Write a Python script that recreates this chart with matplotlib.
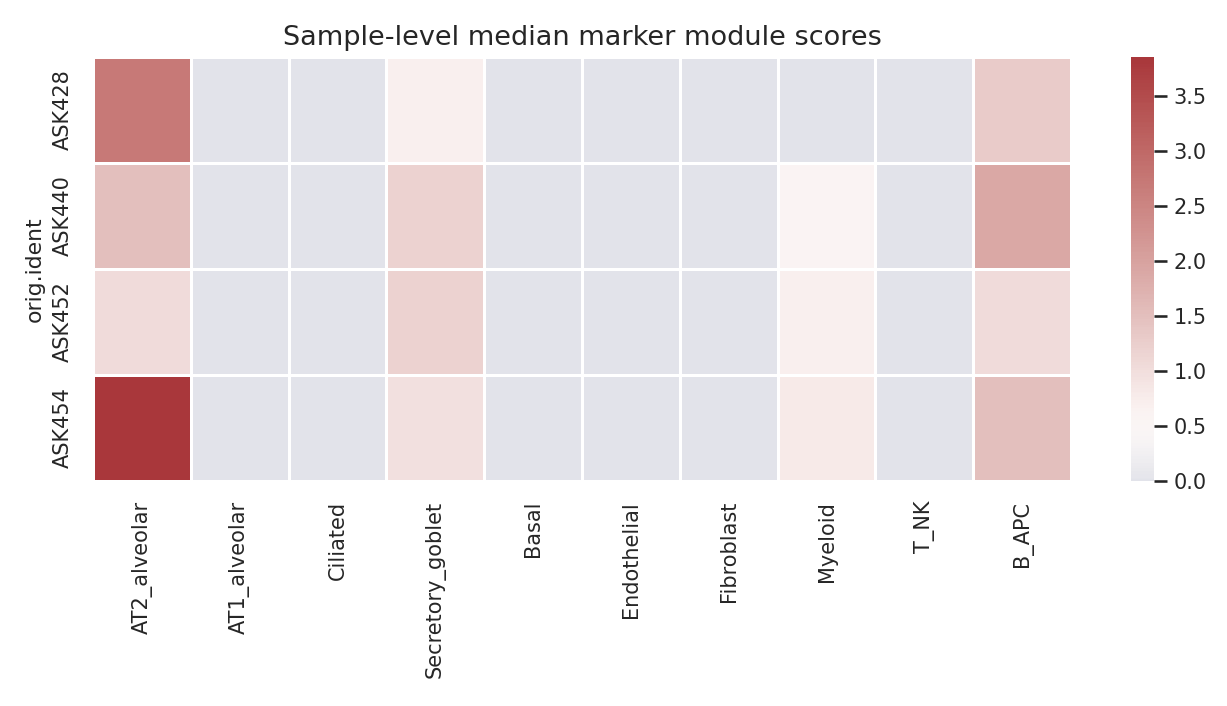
import matplotlib
matplotlib.use("Agg")
import matplotlib.pyplot as plt
import seaborn as sns
import pandas as pd

samples = ["ASK428", "ASK440", "ASK452", "ASK454"]
cell_types = ["AT2_alveolar", "AT1_alveolar", "Ciliated", "Secretory_goblet", "Basal",
              "Endothelial", "Fibroblast", "Myeloid", "T_NK", "B_APC"]
ask428 = [2.7, 0, 0, 0.7, 0, 0, 0, 0, 0, 1.3]
ask440 = [1.5, 0, 0, 1.2, 0, 0, 0, 0.6, 0, 1.9]
ask452 = [1.05, 0, 0, 1.2, 0, 0, 0, 0.7, 0, 1.05]
ask454 = [3.85, 0, 0, 0.95, 0, 0, 0, 0.8, 0, 1.5]

df = pd.DataFrame([ask428, ask440, ask452, ask454], index=samples, columns=cell_types)
df.index.name = "orig.ident"

sns.set_theme(style="darkgrid")
fig = plt.figure(figsize=(8.18, 4.707), dpi=150)
ax = fig.add_axes([93/1227, 1-481/706, 978/1227, 424/706])
cax = fig.add_axes([1131/1227, 1-481/706, 23/1227, 424/706])
sns.heatmap(df, cmap="vlag", center=0.5, vmin=0, linewidths=0.5, linecolor="white",
            ax=ax, cbar_ax=cax)
ax.set_title("Sample-level median marker module scores", fontsize=13)
ax.set_xlabel("")
ax.set_ylabel("orig.ident", fontsize=10.5)
ax.tick_params(axis="x", labelrotation=90, labelsize=10)
ax.tick_params(axis="y", labelrotation=90, labelsize=10)
cax.tick_params(labelsize=10)
fig.savefig("out.png", dpi=150)
